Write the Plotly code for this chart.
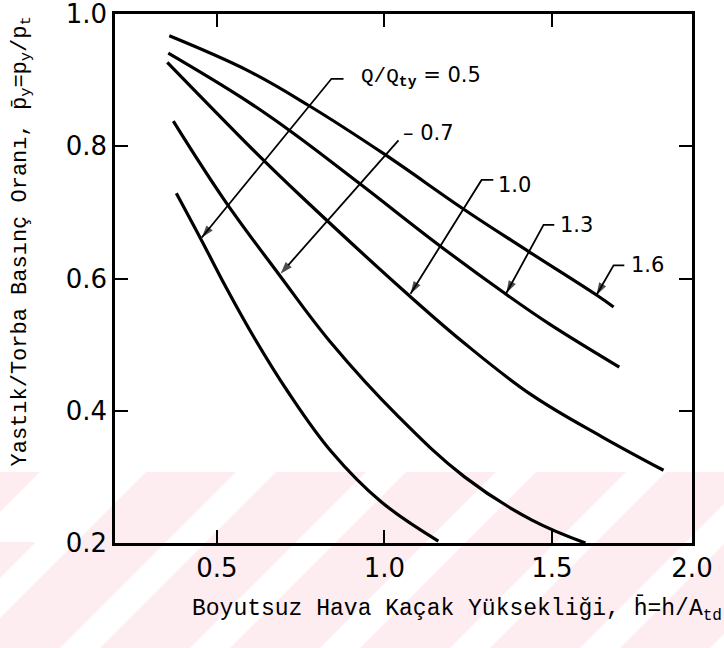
import plotly.graph_objects as go

# Flow ratio Q/Q_ty for each curve
flow_ratios = ["0.5", "0.7", "1.0", "1.3", "1.6"]

# Dimensionless leakage gap h/A_td (x) and pressure ratio p_y/p_t (y) per curve
h_05 = [0.379, 0.454, 0.528, 0.612, 0.713, 0.842, 0.991, 1.161]
p_05 = [0.729, 0.658, 0.586, 0.510, 0.428, 0.338, 0.262, 0.203]

h_07 = [0.370, 0.522, 0.687, 0.842, 1.042, 1.239, 1.439, 1.600]
p_07 = [0.838, 0.719, 0.605, 0.502, 0.391, 0.300, 0.235, 0.200]

h_10 = [0.352, 0.633, 0.752, 1.072, 1.239, 1.439, 1.648, 1.833]
p_10 = [0.927, 0.782, 0.724, 0.575, 0.502, 0.424, 0.361, 0.310]

h_13 = [0.355, 0.573, 0.722, 0.925, 1.164, 1.358, 1.493, 1.701]
p_13 = [0.941, 0.874, 0.822, 0.744, 0.650, 0.578, 0.531, 0.466]

h_16 = [0.358, 0.594, 0.773, 1.000, 1.239, 1.433, 1.633, 1.684]
p_16 = [0.967, 0.914, 0.862, 0.788, 0.704, 0.640, 0.575, 0.557]

x_ticks = [0.5, 1.0, 1.5]
x_tick_labels = ["0.5", "1.0", "1.5"]
x_end = 1.918          # right frame edge, labelled "2.0" on the original drawing
x_end_label = "2.0"
y_ticks = [0.2, 0.4, 0.6, 0.8, 1.0]
y_tick_labels = ["0.2", "0.4", "0.6", "0.8", "1.0"]

curves = [(h_05, p_05), (h_07, p_07), (h_10, p_10), (h_13, p_13), (h_16, p_16)]

W, H = 724, 648
ML, MR, MT, MB = 115, 32, 14, 105


def px_to_paper(px, py):
    """Pixel position on the page -> paper coordinates of the plot area."""
    return (px - ML) / (W - ML - MR), (H - MB - py) / (H - MT - MB)


def paper_path(points):
    pts = [px_to_paper(x, y) for x, y in points]
    return "M " + " L ".join(f"{x:.4f},{y:.4f}" for x, y in pts) + " Z"


fig = go.Figure()

# Faint pink diagonal watermark band along the bottom of the page
PINK = "#fdedf0"
fig.add_shape(type="path", xref="paper", yref="paper", layer="below",
              path=paper_path([(0, 472), (W, 472), (W, H), (0, H)]),
              fillcolor=PINK, line=dict(width=0))
for xb in [-70, 60, 190, 320, 450, 580, 710]:
    fig.add_shape(type="path", xref="paper", yref="paper", layer="below",
                  path=paper_path([(xb, H), (xb + 40, H), (xb + 40 + 176, 472), (xb + 176, 472)]),
                  fillcolor="white", line=dict(width=0))
fig.add_shape(type="path", xref="paper", yref="paper", layer="below",
              path=paper_path([(40, 472), (110, 472), (40, 542), (0, 542), (0, 512)]),
              fillcolor="white", line=dict(width=0))

for (hx, py), q in zip(curves, flow_ratios):
    fig.add_trace(go.Scatter(
        x=hx, y=py, mode="lines", name=q,
        line=dict(color="black", width=3.2, shape="spline", smoothing=1.1),
        showlegend=False, hoverinfo="skip",
    ))

LABEL_FONT = dict(family="DejaVu Sans", size=21, color="black")
MONO = "Liberation Mono"

# Leader lines: (hook end, corner, arrow tip) for each curve label
leaders = [
    ((0.878, 0.902), (0.842, 0.902), (0.455, 0.662)),
    (None,           (1.042, 0.809), (0.690, 0.607)),
    ((1.325, 0.749), (1.290, 0.749), (1.078, 0.577)),
    ((1.507, 0.681), (1.475, 0.681), (1.364, 0.578)),
    ((1.716, 0.620), (1.684, 0.620), (1.633, 0.575)),
]
for hook, corner, tip in leaders:
    pts = ([hook] if hook is not None else []) + [corner, tip]
    fig.add_trace(go.Scatter(
        x=[p[0] for p in pts], y=[p[1] for p in pts], mode="lines+markers",
        line=dict(color="black", width=1.8),
        marker=dict(symbol="arrow", size=[0] * (len(pts) - 1) + [13],
                    angleref="previous", color="black", line=dict(width=0)),
        showlegend=False, hoverinfo="skip",
    ))

label_pos = [
    (0.925, 0.905, f"<span style='font-family:{MONO}'>Q/Q<sub><b>ty</b></sub></span> = 0.5"),
    (1.051, 0.820, "– 0.7"),
    (1.334, 0.741, "1.0"),
    (1.519, 0.681, "1.3"),
    (1.731, 0.620, "1.6"),
]
for lx, ly, txt in label_pos:
    fig.add_annotation(x=lx, y=ly, xref="x", yref="y", text=txt, showarrow=False,
                       xanchor="left", yanchor="middle", font=LABEL_FONT)

# Axis titles
fig.add_annotation(x=0.592, xref="paper", y=-0.125, yref="paper",
                   text="Boyutsuz Hava Kaçak Yüksekliği, h̄=h/A<sub>td</sub>",
                   showarrow=False, xanchor="center", yanchor="middle",
                   font=dict(family=MONO, size=23, color="black"))
fig.add_annotation(x=-0.162, xref="paper", y=0.569, yref="paper",
                   text="Yastık/Torba Basınç Oranı, p̄<sub>y</sub>=p<sub>y</sub>/p<sub>t</sub>",
                   textangle=-90, showarrow=False, xanchor="center", yanchor="middle",
                   font=dict(family=MONO, size=22, color="black"))

axis_common = dict(showline=True, linecolor="black", linewidth=2.5, mirror="ticks",
                   ticks="inside", ticklen=13, tickwidth=2, tickcolor="black",
                   showgrid=False, zeroline=False, automargin=False,
                   ticklabeloverflow="allow",
                   tickfont=dict(family="DejaVu Sans", size=26, color="black"))

fig.update_xaxes(range=[0.196, x_end], tickvals=x_ticks + [x_end],
                 ticktext=x_tick_labels + [x_end_label], **axis_common)
fig.update_yaxes(range=[0.2, 1.0 + 1e-6], tickvals=y_ticks, ticktext=y_tick_labels,
                 **axis_common)

fig.update_layout(width=W, height=H,
                  margin=dict(l=ML, r=MR, t=MT, b=MB),
                  paper_bgcolor="white", plot_bgcolor="rgba(0,0,0,0)")

fig.write_html("out.html")
